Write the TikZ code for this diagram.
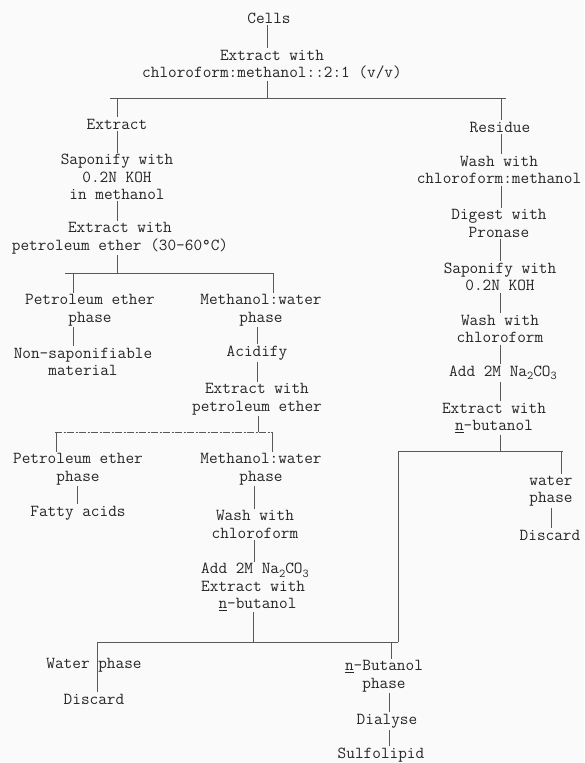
\documentclass[tikz,border=0pt]{standalone}
\usepackage{fontspec}
\newcommand{\lowsub}[1]{\raisebox{-0.45ex}{\fontsize{12}{12}\selectfont #1}}
\tikzset{
  txt/.style={font={\ttfamily\addfontfeature{FakeBold=0.4}\fontsize{16.8}{17.5}\selectfont}, align=center, inner sep=1.5pt, text=black!85},
  ln/.style={draw=black!65, line width=0.55pt}
}
\begin{document}
\begin{tikzpicture}[x=1pt,y=-1pt]
\fill[black!2] (0,0) rectangle (584,763);
\useasboundingbox (0,0) rectangle (584,763);

% top
\node[txt] (cells) at (269,18) {Cells};
\node[txt] (ext1) at (272,64.5) {Extract with\\chloroform:methanol::2:1 (v/v)};
\coordinate (h1L) at (110,98);
\coordinate (h1R) at (506,98);
\draw[ln] (cells.south -| 267,0) -- (ext1.north -| 267,0);
\draw[ln] (ext1.south -| 267,0) -- (h1L -| 267,0);
\draw[ln] (h1L) -- (h1R);

% left column
\node[txt] (extract) at (117,124) {Extract};
\draw[ln] (h1L -| 117,0) -- (extract.north -| 117,0);
\node[txt] (sapon1) at (117,177) {Saponify with\\0.2N KOH\\in methanol};
\draw[ln] (extract.south -| 117,0) -- (sapon1.north -| 117,0);
\node[txt] (ext2) at (120,238) {Extract with\\petroleum ether (30-60°C)};
\draw[ln] (sapon1.south -| 117,0) -- (ext2.north -| 117,0);
\coordinate (h2L) at (65,273);
\coordinate (h2R) at (273,273);
\draw[ln] (ext2.south -| 117,0) -- (h2L -| 117,0);
\draw[ln] (h2L) -- (h2R);
\node[txt] (pe1) at (90,310) {Petroleum ether\\phase};
\draw[ln] (h2L -| 73,0) -- (pe1.north -| 73,0);
\node[txt] (nonsap) at (83,362) {Non-saponifiable\\material};
\draw[ln] (pe1.south -| 73,0) -- (nonsap.north -| 73,0);
\node[txt] (mw1) at (261,310) {Methanol:water\\phase};
\draw[ln] (h2R) -- (mw1.north -| 273,0);
\node[txt] (acid) at (257,353) {Acidify};
\draw[ln] (mw1.south -| 257,0) -- (acid.north -| 257,0);
\node[txt] (ext3) at (257,399) {Extract with\\petroleum ether};
\draw[ln] (acid.south -| 257,0) -- (ext3.north -| 257,0);
\coordinate (h3L) at (55,432);
\coordinate (h3R) at (272,432);
\draw[ln] (ext3.south -| 258,0) -- (h3L -| 258,0);
\draw[ln, dash pattern=on 7pt off 1.5pt on 2pt off 1.5pt] (h3L) -- (h3R);
\node[txt] (pe2) at (78,469) {Petroleum ether\\phase};
\draw[ln] (h3L -| 56,0) -- (pe2.north -| 56,0);
\node[txt] (fatty) at (78,513) {Fatty acids};
\draw[ln] (pe2.south -| 77,0) -- (fatty.north -| 77,0);
\node[txt] (mw2) at (261,469) {Methanol:water\\phase};
\draw[ln] (h3R) -- (mw2.north -| 272,0);
\node[txt] (wash2) at (255,524.5) {Wash with\\chloroform};
\draw[ln] (mw2.south -| 254,0) -- (wash2.north -| 254,0);
\node[txt, align=left] (add2) at (255,587) {Add 2M Na\lowsub{2}CO\lowsub{3}\\Extract with\\\hphantom{Ex}\underline{n}-butanol};
\draw[ln] (wash2.south -| 254,0) -- (add2.north -| 254,0);
\coordinate (h4L) at (97,642);
\coordinate (h4R) at (398,642);
\draw[ln] (add2.south -| 253,0) -- (h4L -| 253,0);
\draw[ln] (h4L) -- (h4R);
\node[txt] (waterph) at (94,665) {Water phase};
\node[txt] (disc1) at (94,699) {Discard};
\draw[ln] (h4L) -- (disc1.north -| 97,0);
\node[txt] (nbut) at (384,676) {\underline{n}-Butanol\\phase};
\draw[ln] (h4R -| 391,0) -- (nbut.north -| 391,0);
\node[txt] (dial) at (387,721) {Dialyse};
\draw[ln] (nbut.south -| 389,0) -- (dial.north -| 389,0);
\node[txt] (sulfo) at (381,755) {Sulfolipid};
\draw[ln] (dial.south -| 389,0) -- (sulfo.north -| 389,0);

% right column
\node[txt] (residue) at (500,127) {Residue};
\draw[ln] (h1R -| 501,0) -- (residue.north -| 501,0);
\node[txt] (wash1) at (499,170) {Wash with\\chloroform:methanol};
\draw[ln] (residue.south -| 501,0) -- (wash1.north -| 501,0);
\node[txt] (digest) at (499,223.5) {Digest with\\Pronase};
\draw[ln] (wash1.south -| 501,0) -- (digest.north -| 501,0);
\node[txt] (sapon2) at (500,277) {Saponify with\\0.2N KOH};
\draw[ln] (digest.south -| 500,0) -- (sapon2.north -| 500,0);
\node[txt] (wash3) at (500,329) {Wash with\\chloroform};
\draw[ln] (sapon2.south -| 500,0) -- (wash3.north -| 500,0);
\node[txt] (add1) at (503,373) {Add 2M Na\lowsub{2}CO\lowsub{3}};
\draw[ln] (wash3.south -| 500,0) -- (add1.north -| 500,0);
\node[txt] (ext4) at (494,418) {Extract with\\\underline{n}-butanol};
\draw[ln] (add1.south -| 500,0) -- (ext4.north -| 500,0);
\coordinate (h5L) at (398,451);
\coordinate (h5R) at (563,451);
\draw[ln] (ext4.south -| 500,0) -- (h5L -| 500,0);
\draw[ln] (h5L) -- (h5R);
\draw[ln] (h5L) -- (h4R);
\node[txt] (water2) at (551,491) {water\\phase};
\draw[ln] (h5R -| 561,0) -- (water2.north -| 561,0);
\node[txt] (disc2) at (550,535) {Discard};
\draw[ln] (water2.south -| 551,0) -- (disc2.north -| 551,0);
\end{tikzpicture}
\end{document}
